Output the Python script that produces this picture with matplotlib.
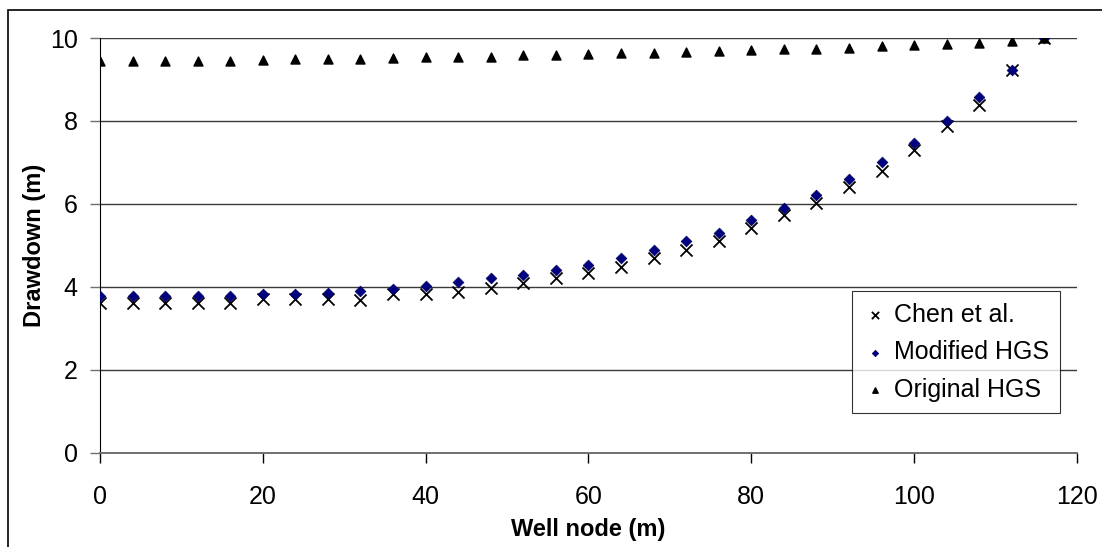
import matplotlib
matplotlib.use("Agg")
import matplotlib.pyplot as plt
from matplotlib.patches import Rectangle

# well node positions (m)
well_node = [0, 4, 8, 12, 16, 20, 24, 28, 32, 36, 40, 44, 48, 52, 56,
             60, 64, 68, 72, 76, 80, 84, 88, 92, 96, 100, 104, 108, 112, 116]

# drawdown (m)
chen = [3.62, 3.62, 3.62, 3.62, 3.62, 3.70, 3.70, 3.70, 3.68, 3.83, 3.83, 3.88, 3.98, 4.10, 4.21,
        4.33, 4.49, 4.69, 4.89, 5.10, 5.41, 5.73, 6.03, 6.40, 6.80, 7.30, 7.88, 8.38, 9.22, 10.0]
modified_hgs = [3.77, 3.77, 3.77, 3.77, 3.77, 3.82, 3.82, 3.86, 3.91, 3.95, 4.03, 4.12, 4.21, 4.29, 4.41,
                4.53, 4.69, 4.89, 5.10, 5.31, 5.60, 5.89, 6.21, 6.60, 7.02, 7.46, 8.01, 8.58, 9.23, 10.0]
original_hgs = [9.45, 9.45, 9.45, 9.45, 9.45, 9.46, 9.50, 9.50, 9.50, 9.51, 9.54, 9.54, 9.54, 9.58, 9.59,
                9.62, 9.63, 9.65, 9.66, 9.69, 9.70, 9.73, 9.74, 9.77, 9.80, 9.84, 9.86, 9.89, 9.93, 10.0]

plt.rcParams["font.family"] = ["Liberation Sans", "DejaVu Sans"]

fig = plt.figure(figsize=(11.02, 5.47), dpi=100)
ax = fig.add_axes([0.0907, 0.1724, 0.8866, 0.7581])

# outer chart frame
fig.patches.append(Rectangle((8 / 1102, -0.1), 1.2, (547 - 10) / 547 + 0.1,
                             transform=fig.transFigure, fill=False,
                             edgecolor="black", linewidth=1.2))

ax.scatter(well_node, chen, marker="x", s=75, color="black", linewidths=1.3,
           label="Chen et al.", zorder=3)
ax.scatter(well_node, modified_hgs, marker="D", s=30, color="#000080",
           edgecolors="#000060", linewidths=0.5, label="Modified HGS", zorder=4)
ax.scatter(well_node, original_hgs, marker="^", s=42, color="black",
           label="Original HGS", zorder=5)

ax.set_xlim(0, 120)
ax.set_ylim(0, 10)
ax.set_xticks(range(0, 121, 20))
ax.set_yticks(range(0, 11, 2))

ax.yaxis.grid(True, color="#3a3a3a", linewidth=1.0)
ax.set_axisbelow(True)
for side in ["top", "right"]:
    ax.spines[side].set_visible(False)
ax.spines["left"].set_color("black")
ax.spines["bottom"].set_color("#707070")
ax.spines["bottom"].set_linewidth(1.4)

ax.tick_params(axis="y", direction="out", length=7, width=1, color="#707070",
               labelsize=18, pad=9)
ax.tick_params(axis="x", direction="out", length=7, width=1, color="black",
               labelsize=18, pad=16)

ax.set_xlabel("Well node (m)", fontsize=17, fontweight="bold", labelpad=7)
ax.set_ylabel("Drawdown (m)", fontsize=17, fontweight="bold", labelpad=3)

leg = ax.legend(loc="lower right", bbox_to_anchor=(0.983, 0.095), fontsize=18,
                frameon=True, fancybox=False, edgecolor="black",
                handletextpad=0.25, borderpad=0.45, labelspacing=0.55,
                markerscale=0.6, handlelength=1.0, borderaxespad=0)
leg.get_frame().set_linewidth(0.8)

fig.savefig("out.png", dpi=100)
